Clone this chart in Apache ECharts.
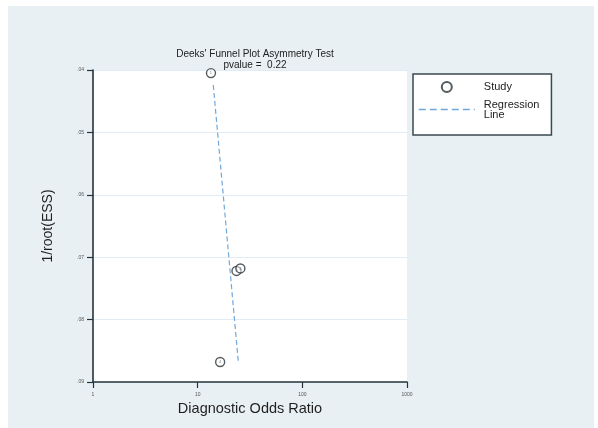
<!DOCTYPE html>
<html>
<head>
<meta charset="utf-8">
<script src="https://cdn.jsdelivr.net/npm/echarts@6/dist/echarts.min.js"></script>
<style>
  html, body { margin: 0; padding: 0; background: #ffffff; }
  #chart { width: 598px; height: 428px; }
</style>
</head>
<body>
<div id="chart"></div>
<script>
// Study-level values: diagnostic odds ratio vs 1/sqrt(effective sample size)
const studyIds = ['1', '2', '3', '4'];
const studyDOR = [13.4, 23.5, 25.6, 16.4];
const studyInvRootESS = [0.0405, 0.0722, 0.0718, 0.0868];

// Fitted regression line end points (DOR, 1/root(ESS))
const fitDOR = [14.1, 24.4];
const fitInvRootESS = [0.0424, 0.0866];

// Axis ticks
const xTicks = [1, 10, 100, 1000];
const yTicks = [0.04, 0.05, 0.06, 0.07, 0.08, 0.09];

const titleLines = ["Deeks' Funnel Plot Asymmetry Test", 'pvalue =  0.22'];

const FONT = '"Liberation Sans", Arial, Helvetica, sans-serif';
const AXIS_DARK = '#25343c';
const MARKER = '#2b3338';
const FIT_BLUE = '#6fa8dc';

const chart = echarts.init(document.getElementById('chart'), null, { renderer: 'canvas' });

const studyPoints = studyIds.map((id, i) => ({ name: id, value: [studyDOR[i], studyInvRootESS[i]] }));
const fitPoints = fitDOR.map((d, i) => [d, fitInvRootESS[i]]);

chart.setOption({
  animation: false,
  backgroundColor: '#ffffff',
  graphic: [{
    type: 'rect',
    z: -10,
    silent: true,
    shape: { x: 8, y: 6, width: 586, height: 422 },
    style: { fill: '#e8f0f3' }
  }],
  title: {
    text: titleLines.join('\n'),
    left: 250,
    top: 44,
    textAlign: 'center',
    textStyle: { fontFamily: FONT, fontSize: 10, fontWeight: 'normal', color: '#222', lineHeight: 11 }
  },
  legend: {
    orient: 'vertical',
    left: 413,
    top: 74,
    padding: [7, 12, 15, 5],
    itemGap: 6,
    itemWidth: 56,
    itemHeight: 10,
    backgroundColor: '#ffffff',
    borderColor: '#3a4a52',
    borderWidth: 1.5,
    borderRadius: 0,
    data: [
      { name: 'Study', icon: 'emptyCircle', itemStyle: { color: MARKER, borderColor: MARKER, borderWidth: 1.5 } },
      { name: 'Regression Line', itemStyle: { opacity: 0 }, lineStyle: { color: FIT_BLUE, width: 1.6, type: [7, 4], opacity: 1 } }
    ],
    formatter: name => name === 'Regression Line' ? 'Regression\nLine' : name,
    textStyle: { fontFamily: FONT, fontSize: 11, color: '#222', lineHeight: 10, padding: [0, 0, 0, 4] }
  },
  grid: {
    left: 93,
    top: 70,
    width: 314,
    height: 312,
    show: true,
    backgroundColor: '#ffffff',
    borderWidth: 0,
    containLabel: false
  },
  xAxis: {
    type: 'log',
    logBase: 10,
    min: xTicks[0],
    max: xTicks[xTicks.length - 1],
    name: 'Diagnostic Odds Ratio',
    nameLocation: 'middle',
    nameGap: 17,
    nameTextStyle: { fontFamily: FONT, fontSize: 14.5, color: '#1f1f1f' },
    axisLine: { show: true, onZero: false, lineStyle: { color: AXIS_DARK, width: 1.6 } },
    axisTick: { show: true, inside: false, length: 6, lineStyle: { color: AXIS_DARK, width: 1.2 } },
    minorTick: { show: false },
    axisLabel: { fontFamily: FONT, fontSize: 5, color: '#555', margin: 10, formatter: v => String(Math.round(v)) },
    splitLine: { show: false }
  },
  yAxis: {
    type: 'value',
    inverse: true,
    min: yTicks[0],
    max: yTicks[yTicks.length - 1],
    interval: 0.01,
    name: '1/root(ESS)',
    nameLocation: 'middle',
    nameGap: 38,
    nameTextStyle: { fontFamily: FONT, fontSize: 14, color: '#1f1f1f' },
    axisLine: { show: true, onZero: false, lineStyle: { color: AXIS_DARK, width: 1.6 } },
    axisTick: { show: true, inside: false, length: 6, lineStyle: { color: AXIS_DARK, width: 1.2 } },
    axisLabel: {
      fontFamily: FONT, fontSize: 5, color: '#555', margin: 9,
      formatter: v => v.toFixed(2).replace(/^0/, '')
    },
    splitLine: { show: true, lineStyle: { color: '#e1edf6', width: 1 } }
  },
  series: [
    {
      name: 'Study',
      type: 'scatter',
      data: studyPoints,
      symbol: 'circle',
      symbolSize: 9,
      itemStyle: { color: 'rgba(255,255,255,0.6)', borderColor: MARKER, borderWidth: 1.4 },
      label: {
        show: true,
        position: 'inside',
        formatter: p => p.name,
        fontFamily: FONT,
        fontSize: 4,
        color: '#555'
      },
      z: 3
    },
    {
      name: 'Regression Line',
      type: 'line',
      data: fitPoints,
      showSymbol: false,
      symbol: 'none',
      itemStyle: { color: FIT_BLUE },
      lineStyle: { color: FIT_BLUE, width: 1.2, type: [5, 3] },
      z: 2
    }
  ]
});
</script>
</body>
</html>
